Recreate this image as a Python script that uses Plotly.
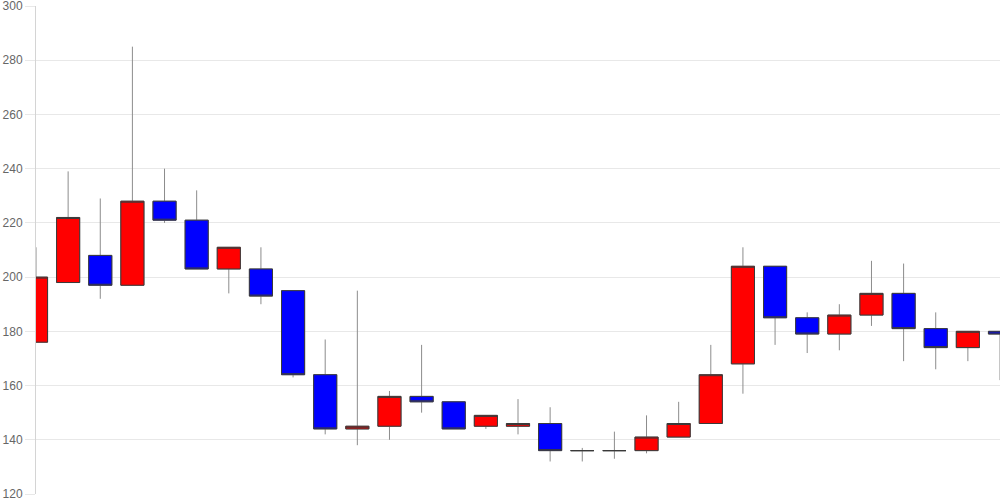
import plotly.graph_objects as go

days = list(range(31))
open_ = [176, 198, 208, 197, 228, 221, 203, 203, 195, 164, 144, 145, 156, 154, 145, 145,
         146, 136, 136, 136, 141, 146, 168, 204, 185, 179, 186, 194, 181, 174, 180]
high = [211, 239, 229, 285, 240, 232, 211, 211, 195, 177, 195, 158, 175, 154, 149, 155,
        152, 137, 143, 149, 154, 175, 211, 204, 187, 190, 206, 205, 187, 180, 180]
low = [176, 198, 192, 197, 220, 203, 194, 190, 163, 142, 138, 140, 150, 144, 144, 142,
       132, 132, 133, 135, 141, 146, 157, 175, 172, 173, 182, 169, 166, 169, 162]
close = [200, 222, 197, 228, 221, 203, 211, 193, 164, 144, 145, 156, 154, 144, 149, 146,
         136, 136, 136, 141, 146, 164, 204, 185, 179, 186, 194, 181, 174, 180, 179]
y_ticks = [120, 140, 160, 180, 200, 220, 240, 260, 280, 300]

body_top = [max(o, c) for o, c in zip(open_, close)]
body_bot = [min(o, c) for o, c in zip(open_, close)]

UP = "#ff0000"
DOWN = "#0000ff"
WICK = "#8c8c8c"
EDGE = "#3a3a3a"

fig = go.Figure()
# wicks
fig.add_trace(go.Candlestick(
    x=days, open=open_, high=high, low=low, close=close,
    increasing=dict(fillcolor=UP, line=dict(color=WICK, width=1)),
    decreasing=dict(fillcolor=DOWN, line=dict(color=WICK, width=1)),
    whiskerwidth=0, showlegend=False, hoverinfo="skip",
))
# bodies with dark outline
fig.add_trace(go.Candlestick(
    x=days, open=open_, high=body_top, low=body_bot, close=close,
    increasing=dict(fillcolor=UP, line=dict(color=EDGE, width=1)),
    decreasing=dict(fillcolor=DOWN, line=dict(color=EDGE, width=1)),
    whiskerwidth=0, showlegend=False,
))

fig.update_layout(
    width=1000, height=500,
    margin=dict(l=36, r=0, t=6, b=6, autoexpand=False),
    paper_bgcolor="white", plot_bgcolor="white",
    boxgap=0.28, boxgroupgap=0, boxmode="overlay",
    showlegend=False,
    font=dict(family="Liberation Sans, Arial, sans-serif", size=12, color="#666666"),
)
fig.update_xaxes(
    range=[0, 30], showgrid=False, showticklabels=False, zeroline=False,
    rangeslider=dict(visible=False), showline=False, ticks="",
)
fig.update_yaxes(
    range=[120, 300], tickvals=y_ticks,
    showgrid=True, gridcolor="#e8e8e8", gridwidth=1, zeroline=False,
    showline=True, linecolor="#d4d4d4", linewidth=1,
    ticks="outside", ticklen=10, tickcolor="#e8e8e8", tickwidth=1,
    ticklabelstandoff=0, ticklabeloverflow="allow",
    tickfont=dict(color="#666666", size=12),
)

fig.write_html(
    "out.html",
    config={"displayModeBar": False},
    post_script="document.body.style.margin='0';document.body.style.padding='0';",
)
